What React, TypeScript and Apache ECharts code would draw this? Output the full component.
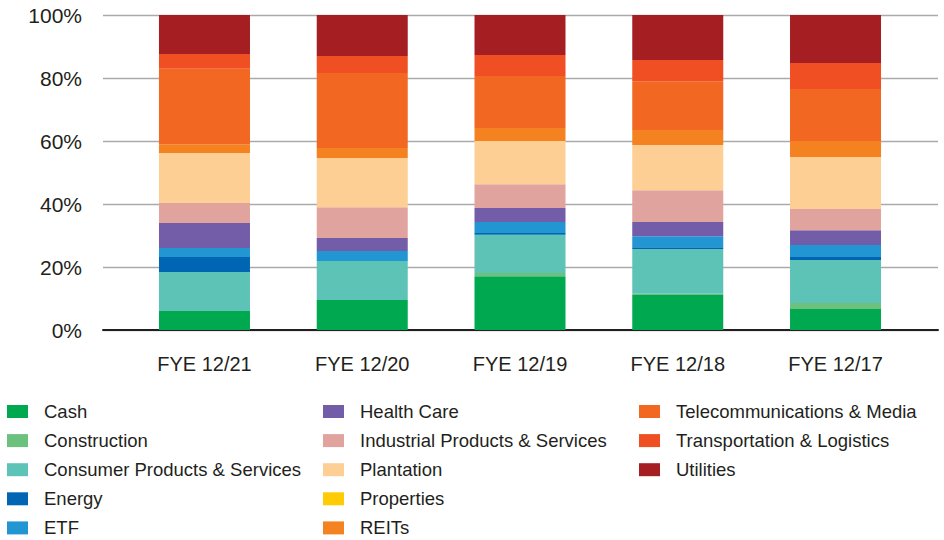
import React, { useEffect, useRef } from "react";
import * as echarts from "echarts";

const categories = ["FYE 12/21", "FYE 12/20", "FYE 12/19", "FYE 12/18", "FYE 12/17"];
const yTicks = [0, 20, 40, 60, 80, 100];

const cash = [6.0, 9.5, 17.1, 11.1, 6.7];
const construction = [0, 0, 1.0, 0.4, 1.9];
const consumer = [12.4, 12.4, 12.1, 14.2, 13.6];
const energy = [4.8, 0, 0.6, 0.6, 1.0];
const etf = [2.8, 3.2, 3.5, 3.5, 3.8];
const healthCare = [8.0, 4.1, 4.4, 4.5, 4.7];
const industrial = [6.3, 9.8, 7.6, 10.1, 6.7];
const plantation = [15.9, 15.6, 13.7, 14.3, 16.5];
const properties = [0, 0, 0, 0, 0];
const reits = [2.8, 3.2, 4.1, 4.8, 5.1];
const telecom = [23.9, 23.8, 16.5, 15.5, 16.5];
const transport = [4.7, 5.4, 6.7, 6.7, 8.3];
const utilities = [12.4, 13.0, 12.7, 14.3, 15.2];

const seriesNames = [
  "Cash",
  "Construction",
  "Consumer Products & Services",
  "Energy",
  "ETF",
  "Health Care",
  "Industrial Products & Services",
  "Plantation",
  "Properties",
  "REITs",
  "Telecommunications & Media",
  "Transportation & Logistics",
  "Utilities",
];
const seriesValues = [
  cash, construction, consumer, energy, etf, healthCare, industrial,
  plantation, properties, reits, telecom, transport, utilities,
];
const seriesColors = [
  "#00a94f", "#6cc17f", "#5ec3b7", "#0066b3", "#2196d3", "#735ca8", "#e0a39e",
  "#fdcf95", "#ffcb05", "#f58220", "#f26722", "#f04e23", "#a51e22",
];

const FONT = "'Liberation Sans', Arial, Helvetica, sans-serif";

export default function App() {
  const ref = useRef<HTMLDivElement>(null);
  useEffect(() => {
    if (!ref.current) return;
    const chart = echarts.init(ref.current, null, { renderer: "svg" });
    const legendBase = (left: number, data: string[]) => ({
      orient: "vertical",
      left,
      top: 402,
      height: 300,
      padding: 0,
      itemWidth: 21,
      itemHeight: 13,
      itemGap: 10.1,
      icon: "rect",
      selectedMode: false,
      data,
      textStyle: {
        fontFamily: FONT,
        fontSize: 18.5,
        lineHeight: 18,
        color: "#231f20",
        padding: [0, 0, 0, 11],
      },
    });
    chart.setOption({
      animation: false,
      backgroundColor: "#ffffff",
      grid: [
        { left: 103, right: 6, top: 15, bottom: 210 },
        { left: 125.6, right: 29.6, top: 15, bottom: 210 },
      ],
      xAxis: [
        {
          gridIndex: 0,
          type: "value",
          min: 0,
          max: 1,
          axisLine: { show: true, onZero: false, lineStyle: { color: "#231f20", width: 2 } },
          axisTick: { show: false },
          axisLabel: { show: false },
          splitLine: { show: false },
        },
        {
          gridIndex: 1,
          type: "category",
          data: categories,
          axisLine: { show: false },
          axisTick: { show: false },
          axisLabel: {
            margin: 24,
            fontFamily: FONT,
            fontSize: 20,
            color: "#231f20",
          },
        },
      ],
      yAxis: [
        {
          gridIndex: 0,
          type: "value",
          min: yTicks[0],
          max: yTicks[yTicks.length - 1],
          interval: 20,
          axisLine: { show: false },
          axisTick: { show: false },
          axisLabel: {
            margin: 21,
            fontFamily: FONT,
            fontSize: 21,
            color: "#231f20",
            formatter: "{value}%",
          },
          splitLine: { show: true, lineStyle: { color: "#aaaaaa", width: 1.3 } },
        },
        {
          gridIndex: 1,
          type: "value",
          min: 0,
          max: 100,
          show: false,
          splitLine: { show: false },
        },
      ],
      legend: [
        legendBase(7, seriesNames.slice(0, 5)),
        legendBase(323, seriesNames.slice(5, 10)),
        legendBase(639, seriesNames.slice(10, 13)),
      ],
      series: seriesNames.map((name, i) => ({
        name,
        type: "bar",
        stack: "total",
        xAxisIndex: 1,
        yAxisIndex: 1,
        barWidth: 91,
        data: seriesValues[i],
        itemStyle: { color: seriesColors[i] },
        emphasis: { disabled: true },
      })),
    });
    return () => chart.dispose();
  }, []);
  return (
    <div
      ref={ref}
      style={{ position: "fixed", left: 0, top: 0, width: 944, height: 540, background: "#fff" }}
    />
  );
}
